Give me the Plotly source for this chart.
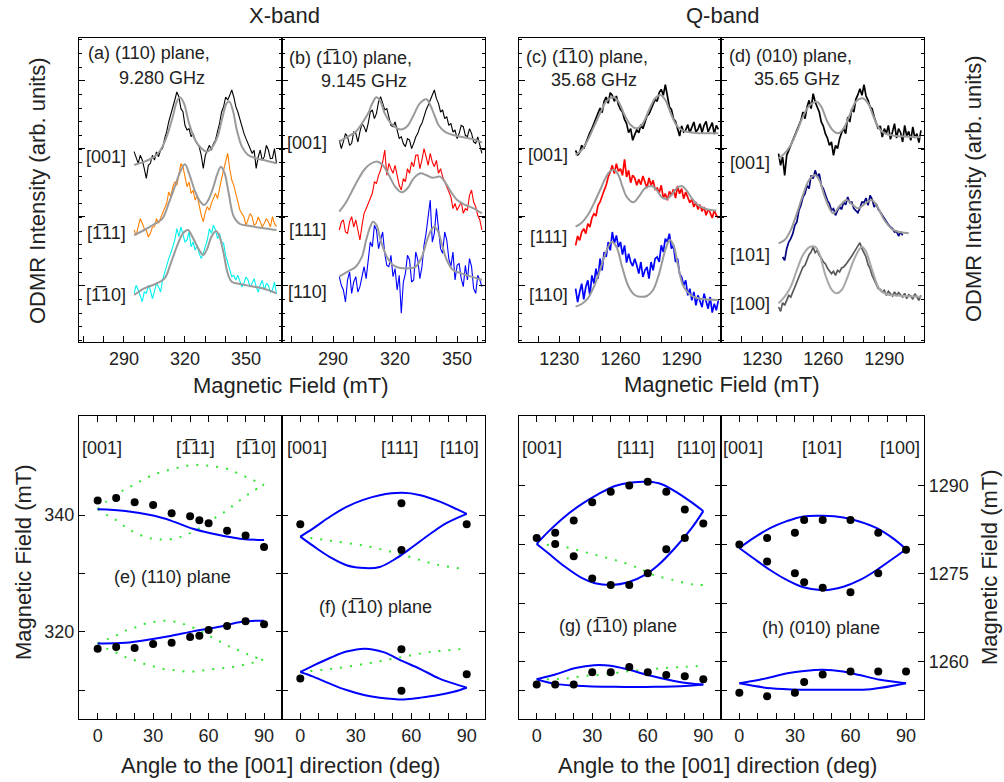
import plotly.graph_objects as go

# ---------------- DATA: top row spectra (intensity in arbitrary units) ----------------
FIELD_A = [295,296,297,298,299,300,301,302,303,304,305,306,307,308,309,310,311,312,313,314,
           315,316,317,318,319,320,321,322,323,324,325,326,327,328,329,330,331,332,333,334,
           335,336,337,338,339,340,341,342,343,344,345,346,347,348,349,350,351,352,353,354,
           355,356,357,358,359,360,361,362,363,364,365]
A_001 = [571,550,536,560,546,520,491,530,536,560,546,570,556,575,581,610,631,660,681,700,
         726,750,736,700,691,650,636,640,616,625,606,595,586,560,521,560,576,590,576,595,
         606,630,656,690,706,735,726,740,756,735,706,690,666,650,626,610,596,585,566,575,
         521,555,576,545,556,590,576,550,551,580,536]
A_M111 = [336,320,346,370,356,340,336,315,326,345,346,370,356,372,386,400,416,450,436,465,
          481,470,501,535,526,500,466,480,446,455,426,440,406,380,361,390,406,395,416,430,
          446,430,466,490,516,540,566,520,486,470,446,420,396,385,376,350,366,385,376,350,
          356,375,361,345,356,370,361,345,376,355,346]
A_M110 = [146,170,156,135,121,150,146,170,156,130,151,175,166,150,186,210,226,250,266,290,
          306,340,316,345,326,300,306,330,286,300,276,290,266,250,266,290,306,340,326,350,
          336,310,326,300,296,260,236,215,196,200,186,200,181,165,176,195,186,165,176,190,
          166,150,171,185,156,175,171,150,156,180,146]
FIT_A_001_X = [295,300,305,308,311,314,316,317.5,319.5,322,325,328,330.7,333,336,338.5,340.5,341.8,343.5,345.5,348,351,355,360,365]
FIT_A_001_Y = [531,541,556,576,616,676,721,734,716,656,606,581,571,581,616,676,716,721,696,636,586,561,551,544,536]
FIT_A_M111_X = [295,300,305,309,312,315,318,320,322,325,327.5,329.4,331.5,334,336,337.7,339.5,341.5,344,347,352,358,365]
FIT_A_M111_Y = [321,336,354,371,416,466,516,533,506,451,421,411,426,466,506,526,506,446,376,354,348,342,336]
FIT_A_M110_X = [295,300,305,310,313,316,319,321.5,324,327,329,331,333,335.3,337,339,341,343,347,352,358,365]
FIT_A_M110_Y = [141,161,173,191,236,286,326,336,311,276,261,281,316,333,316,266,206,181,174,168,161,146]

FIELD_B = [293,294,295,296,297,298,299,300,301,302,303,304,305,306,307,308,309,310,311,312,
           313,314,315,316,317,318,319,320,321,322,323,324,325,326,327,328,329,330,331,332,
           333,334,335,336,337,338,339,340,341,342,343,344,345,346,347,348,349,350,351,352,
           353,354,355,356,357,358,359,360,361,362]
B_001 = [606,580,601,625,616,590,596,630,626,600,631,655,646,630,656,690,696,670,686,720,
         736,715,696,700,676,650,646,660,636,610,616,595,586,610,606,580,596,615,626,645,
         656,680,696,710,726,740,756,730,716,690,696,670,676,650,656,630,636,610,626,650,
         646,620,616,640,626,600,596,615,586,566]
B_111 = [336,360,366,330,326,360,376,345,366,330,306,350,386,400,416,430,446,480,476,500,
         516,540,576,500,536,520,506,530,496,470,456,490,481,520,506,540,526,560,561,520,
         546,580,556,530,566,540,526,545,506,520,496,480,466,450,436,400,416,395,406,420,
         386,400,396,440,456,420,406,380,366,336]
B_110 = [196,170,156,120,186,210,146,180,196,150,166,200,226,190,256,300,286,350,336,280,
         306,330,266,230,226,260,196,220,156,200,86,180,206,260,246,180,186,270,246,190,
         226,290,326,380,426,300,326,400,346,280,266,330,306,250,226,270,186,230,236,190,
         166,230,186,250,226,160,146,200,186,166]
FIT_B_001_X = [293,297,301,304,307,309,311,313,315,318,321,323.5,326,329,332,335.2,337,339,341,344,348,353,358,362]
FIT_B_001_Y = [601,616,631,656,686,716,734,721,686,656,641,638,648,681,716,728,711,681,651,631,621,614,608,598]
FIT_B_111_X = [293,296,299,302,305,308,311.6,314,317,320,323.2,326,329,332.4,335,338,341.8,344,347,350,354,358,362]
FIT_B_111_Y = [391,416,451,486,516,534,541,531,501,466,449,461,491,506,501,493,496,481,451,426,411,401,386]
FIT_B_110_X = [293,297,301,304,306,308,309.3,311,313,316,319,322,326.8,330,333,335.5,337.5,338.9,340.5,342.5,345,348,352,357,362]
FIT_B_110_Y = [196,211,226,256,306,346,361,351,306,256,231,223,221,226,256,306,336,346,336,296,246,216,206,196,186]

FIELD_Q = [1238,1239,1240,1241,1242,1243,1244,1245,1246,1247,1248,1249,1250,1251,1252,1253,1254,1255,1256,1257,
           1258,1259,1260,1261,1262,1263,1264,1265,1266,1267,1268,1269,1270,1271,1272,1273,1274,1275,1276,1277,
           1278,1279,1280,1281,1282,1283,1284,1285,1286,1287,1288,1289,1290,1291,1292,1293,1294,1295,1296,1297,
           1298,1299,1300,1301,1302,1303,1304,1305,1306,1307,1308]
C_001 = [575,560,568,590,580,598,612,628,640,655,672,690,702,688,722,735,716,748,740,722,
         738,712,698,690,668,655,628,640,605,622,636,628,652,640,660,678,684,700,712,728,
         722,748,758,740,772,732,705,698,670,662,640,618,648,630,636,652,628,646,660,630,
         638,655,628,650,662,630,645,658,624,650,638]
C_111 = [290,318,305,330,340,325,355,345,372,385,378,410,420,440,455,470,495,510,530,505,
         535,512,520,500,548,495,515,478,500,492,470,488,472,498,480,462,492,470,485,458,
         462,448,470,432,445,425,452,440,458,432,468,445,460,430,450,432,418,428,405,420,
         398,412,392,405,380,398,388,372,395,380,372]
C_110 = [160,120,150,175,128,165,185,140,200,175,220,190,250,215,270,255,300,275,330,295,
         320,285,300,262,290,238,265,240,228,250,230,205,240,195,215,225,190,240,215,250,
         255,240,290,270,310,300,325,280,290,240,250,205,195,170,185,140,160,125,150,110,
         140,125,105,145,120,100,135,88,115,95,125]
FIT_C_001_X = [1238,1241,1244,1247,1250,1253,1256.5,1259,1262,1265,1267.9,1271,1274,1277,1279.7,1282,1285,1288,1292,1296,1300,1304,1308]
FIT_C_001_Y = [561,576,606,646,686,721,734,721,681,651,641,656,696,731,741,726,681,646,631,628,626,626,626]
FIT_C_111_X = [1238,1241,1244,1247,1250,1253,1255,1257,1259,1261,1263,1266.3,1269,1272,1275.3,1278,1280,1282.6,1285,1287.5,1290,1292,1295,1298,1302,1307]
FIT_C_111_Y = [346,358,381,416,456,496,513,516,501,466,436,419,436,461,468,454,436,429,441,461,468,458,431,411,399,394]
FIT_C_110_X = [1238,1241,1244,1247,1250,1253,1255.7,1258,1261,1264,1267,1269.5,1273,1276,1279,1282,1284.2,1286,1288,1291,1295.7,1300,1308]
FIT_C_110_Y = [106,114,131,166,216,271,301,286,221,166,141,136,138,156,206,276,306,291,236,166,136,129,126]

D_001 = [565,530,555,500,560,575,590,605,620,640,650,665,690,670,705,725,700,745,720,705,
         690,660,648,625,612,590,600,560,590,580,610,628,640,625,675,660,700,690,728,742,
         760,740,772,738,725,705,700,675,660,640,648,615,640,625,650,608,630,655,612,640,
         628,600,650,618,632,605,645,612,625,598,635]
FIELD_D101 = [1240,1241,1242,1243,1244,1245,1246,1247,1248,1249,1250,1251,1252,1253,1254,1255,1256,1257,1258,1259,
              1260,1261,1262,1263,1264,1265,1266,1267,1268,1269,1270,1271,1272,1273,1274,1275,1276,1277,1278,1279,
              1280,1281,1282,1283,1284,1285,1286,1287,1288,1289,1290,1291,1292,1293,1294,1295,1296,1297,1298,1299]
D_101 = [255,245,280,300,310,325,350,360,395,410,435,445,470,460,500,490,515,495,505,470,
         460,440,425,415,395,400,380,395,405,398,420,412,435,418,420,400,395,388,402,420,
         418,432,410,440,428,405,415,398,390,380,370,360,352,345,340,330,332,318,330,320]
D_100 = [105,92,118,110,125,140,135,150,165,175,195,205,225,230,248,262,270,285,268,275,
         260,252,240,235,222,215,205,212,200,215,210,222,225,232,240,248,258,268,278,292,
         298,280,268,255,232,220,200,188,172,160,158,150,155,140,152,145,138,150,140,148,
         142,135,146,130,142,138,128,145,135,125,140]
FIT_D_001_X = [1238,1241,1244,1247,1250,1253,1256.7,1259,1262,1265,1267.4,1270,1273,1276,1279.3,1282,1285,1288,1291,1296,1302,1308]
FIT_D_001_Y = [551,566,591,631,676,708,721,706,661,633,626,641,681,721,731,716,671,636,624,618,616,614]
FIT_D_101_X = [1238,1241,1244,1247,1250,1253,1255.9,1258,1261,1264.9,1268,1271.5,1274.5,1277.2,1280,1283.8,1287,1290,1294,1298,1302]
FIT_D_101_Y = [296,306,336,386,441,486,501,486,431,386,408,426,411,401,413,426,401,366,338,329,326]
FIT_D_100_X = [1238,1241,1244,1247,1250,1253,1255.9,1258,1261,1264,1266.6,1269,1272,1275,1278.9,1281,1284,1287.9,1292,1298,1308]
FIT_D_100_Y = [116,136,166,216,261,284,286,266,201,158,146,156,196,246,286,271,216,156,142,139,136]

# ---------------- DATA: bottom row angular dependence (mT vs deg) ----------------
E_ANG = [0,10,20,30,40,50,55,60,70,80,90]
E_UP = [342.5,342.9,342.2,341.7,340.3,339.8,339.1,338.6,337.3,336.5,334.5]
E_LOW = [317.1,317.4,317.2,317.9,318.1,319.1,319.3,320.3,321.0,321.8,321.3]
E_FIT_UP_ANG = [0,15,30,40,52,65,78,90]
E_FIT_UP = [341.0,340.7,339.9,339.0,337.6,336.6,335.9,335.7]
E_FIT_LOW_ANG = [0,15,29,40,52,65,78,90]
E_FIT_LOW = [318.0,318.1,318.7,319.3,320.1,320.8,321.7,321.9]
E_G_ANG = [0,5,11,16,21,26,31,36,42,47,52.5,58,63,69,74,79,84,90]
E_G1 = [341.0,342.4,343.7,344.6,345.4,346.3,347.0,347.5,348.0,348.4,348.6,348.5,348.3,348.0,347.4,346.7,346.0,345.1]
E_G2 = [341.0,340.0,338.9,337.7,336.9,336.2,335.9,335.8,336.0,336.5,337.3,338.3,339.4,340.6,341.8,343.0,344.1,345.1]
E_G3 = [318.0,318.7,319.5,320.3,320.8,321.4,321.7,321.9,321.7,321.25,320.6,319.7,318.85,317.8,317.1,316.45,315.7,315.3]
E_G4 = [318.0,317.1,316.3,315.5,315.0,314.4,314.0,313.6,313.4,313.2,313.2,313.4,313.6,313.8,314.0,314.3,314.7,315.3]

F_ANG = [0,54.7,54.7,90]
F_UPGRP = [338.4,342.0,334.0,338.4]
F_LOWGRP = [312.0,317.0,309.9,312.7]
F_L1_UP_ANG = [0,7,16,25,34,43,55,65,75.5,84.6,90]
F_L1_UP = [336.3,337.7,339.7,341.4,342.6,343.4,343.8,343.4,342.3,341.0,340.2]
F_L1_LOW_ANG = [0,7,16,25,35,43,52,61,70,79,90]
F_L1_LOW = [336.3,334.7,332.8,331.4,330.9,331.1,332.6,334.6,336.7,338.6,340.2]
F_L2_UP_ANG = [0,7,16,25,35,45,55,65,75,83,90]
F_L2_UP = [313.1,314.2,315.5,316.6,317.1,316.5,315.0,313.6,312.0,311.1,310.4]
F_L2_LOW_ANG = [0,7,16,25,35,43,56,65,74,83,90]
F_L2_LOW = [313.1,312.3,311.1,310.0,309.1,308.7,308.4,308.7,309.1,309.7,310.4]
F_G1_ANG = [0,16,37,56,74,90]
F_G1 = [336.3,335.6,334.6,333.1,331.5,330.7]
F_G2_ANG = [0,16,37,54,70,90]
F_G2 = [313.1,313.6,314.6,315.6,316.5,317.1]

G_ANG = [0,10,20,30,40,50,60,70,80,90]
G_UP = [1281.1,1282.0,1284.1,1287.2,1289.0,1290.1,1290.7,1289.0,1286.0,1283.6]
G_MID_ANG = [10,20,30,40,50,60,70,80]
G_MID = [1280.1,1278.0,1274.2,1273.1,1273.1,1275.1,1279.2,1281.1]
G_LOW = [1256.1,1256.1,1256.1,1258.2,1258.2,1259.1,1258.2,1257.7,1257.5,1257.0]
G_L1_UP_ANG = [0,6.3,15.3,24.3,33.3,42.3,51.3,60.3,67.5,76.5,83.7,90]
G_L1_UP = [1280.1,1282.2,1284.8,1286.9,1288.6,1290.0,1290.6,1290.7,1290.3,1288.75,1287.2,1285.7]
G_L1_LOW_ANG = [0,6.3,15.3,24.3,31.5,40.5,49.5,58.5,65.7,74.7,83.7,90]
G_L1_LOW = [1280.1,1278.5,1276.2,1274.3,1273.4,1273.1,1273.55,1274.8,1276.5,1279.4,1282.8,1285.7]
G_G1_ANG = [0,15,26,37,48,57,64,73,84,90]
G_G1 = [1280.1,1279.6,1278.7,1277.8,1276.8,1275.7,1274.7,1274.0,1273.2,1273.1]
G_L2_UP_ANG = [0,10,21,31,40,50,60,71,82,90]
G_L2_UP = [1257.0,1257.8,1258.9,1259.4,1259.3,1258.6,1257.7,1256.9,1256.3,1256.1]
G_L2_LOW_ANG = [0,10,21,42,64,82,90]
G_L2_LOW = [1257.0,1256.2,1255.9,1255.7,1255.7,1255.9,1256.1]
G_G2_ANG = [0,15,26,37,48,59,69,80,90]
G_G2 = [1257.0,1257.1,1257.55,1257.8,1258.3,1258.6,1258.9,1259.1,1259.3]

H_ANG = [0,15,30,35,45,60,75,90]
H_UP = [1280.0,1281.1,1282.0,1284.2,1284.2,1284.2,1282.0,1279.1]
H_MID_ANG = [15,30,35,45,60,75]
H_MID = [1277.1,1275.1,1273.55,1272.6,1271.85,1275.1]
H_LOW = [1254.7,1254.1,1254.7,1256.5,1257.8,1258.3,1258.3,1258.3]
H_L1_ANG = [0,7.6,16.6,25.6,34.6,45.4,56.2,65.2,74.2,83.2,90]
H_L1_UP = [1279.4,1281.1,1282.8,1284.0,1284.8,1284.9,1284.6,1283.9,1282.8,1281.0,1279.2]
H_L1_LOW = [1279.4,1277.65,1275.65,1273.95,1272.7,1272.2,1272.8,1273.95,1275.65,1277.65,1279.2]
H_L2_UP_ANG = [0,11,26,35,45,56,65,76,90]
H_L2_UP = [1256.3,1256.9,1258.0,1258.4,1258.6,1258.3,1257.7,1256.9,1256.3]
H_L2_LOW_ANG = [0,17,35,53,71,90]
H_L2_LOW = [1256.3,1255.45,1255.2,1255.2,1255.3,1256.3]

X_TICKS = [270,280,290,300,310,320,330,340,350,360]
X_LABELS = ['','','290','','','320','','','350','']
Q_TICKS = [1220,1230,1240,1250,1260,1270,1280,1290,1300]
Q_LABELS = ['','1230','','','1260','','','1290','']
ANG_TICKS = [0,10,20,30,40,50,60,70,80,90]
ANG_LABELS = ['0','','','30','','','60','','','90']
EF_TICKS = [310,320,330,340]
EF_LABELS = ['','320','','340']
GH_TICKS = [1255,1260,1265,1270,1275,1280,1285,1290]
GH_LABELS = ['','1260','','','1275','','','1290']

# ---------------- FIGURE ----------------
W, H = 1004, 782
FONT = "Liberation Sans, Arial, sans-serif"
TXT = "#222222"
OB = "\u0305"  # combining overline


def px(x):
    return x / W


def py(y):
    return 1 - y / H


fig = go.Figure()


def ax(i):
    return ('x' if i == 1 else f'x{i}'), ('y' if i == 1 else f'y{i}')


def line(i, xs, ys, color, width=1, dash=None, shape='linear'):
    xa, ya = ax(i)
    fig.add_trace(go.Scatter(x=xs, y=ys, mode='lines', xaxis=xa, yaxis=ya,
                             line=dict(color=color, width=width, dash=dash, shape=shape,
                                       smoothing=1.0 if shape == 'spline' else None),
                             showlegend=False, hoverinfo='skip'))


def dots(i, xs, ys):
    xa, ya = ax(i)
    fig.add_trace(go.Scatter(x=xs, y=ys, mode='markers', xaxis=xa, yaxis=ya,
                             marker=dict(color='black', size=8),
                             showlegend=False, hoverinfo='skip'))


FIT = '#9a9a9a'
GREEN = '#33e633'
BLUE = '#0000ff'
GDASH = '2px,8px'
XW = 1.1   # X-band data line width
QW = 1.7   # Q-band data (dense noise) line width

# (a)
line(1, FIELD_A, A_001, 'black', XW)
line(1, FIELD_A, A_M111, '#ff8000', XW)
line(1, FIELD_A, A_M110, '#00f0f0', XW)
line(1, FIT_A_001_X, FIT_A_001_Y, FIT, 2, shape='spline')
line(1, FIT_A_M111_X, FIT_A_M111_Y, FIT, 2, shape='spline')
line(1, FIT_A_M110_X, FIT_A_M110_Y, FIT, 2, shape='spline')
# (b)
line(2, FIELD_B, B_001, 'black', XW)
line(2, FIELD_B, B_111, '#ff0000', XW)
line(2, FIELD_B, B_110, '#0000ff', XW)
line(2, FIT_B_001_X, FIT_B_001_Y, FIT, 2, shape='spline')
line(2, FIT_B_111_X, FIT_B_111_Y, FIT, 2, shape='spline')
line(2, FIT_B_110_X, FIT_B_110_Y, FIT, 2, shape='spline')
# (c)
line(3, FIELD_Q, C_001, 'black', QW)
line(3, FIELD_Q, C_111, '#ff0000', QW)
line(3, FIELD_Q, C_110, '#0000ff', QW)
line(3, FIT_C_001_X, FIT_C_001_Y, FIT, 2, shape='spline')
line(3, FIT_C_111_X, FIT_C_111_Y, FIT, 2, shape='spline')
line(3, FIT_C_110_X, FIT_C_110_Y, FIT, 2, shape='spline')
# (d)
line(4, FIELD_Q, D_001, 'black', QW)
line(4, FIELD_D101, D_101, '#000080', QW)
line(4, FIELD_Q, D_100, '#5a5a5a', QW)
line(4, FIT_D_001_X, FIT_D_001_Y, FIT, 2, shape='spline')
line(4, FIT_D_101_X, FIT_D_101_Y, FIT, 2, shape='spline')
line(4, FIT_D_100_X, FIT_D_100_Y, '#a8a8a8', 2, shape='spline')

# (e)
for g in (E_G1, E_G2, E_G3, E_G4):
    line(5, E_G_ANG, g, GREEN, 2, dash=GDASH, shape='spline')
line(5, E_FIT_UP_ANG, E_FIT_UP, BLUE, 2, shape='spline')
line(5, E_FIT_LOW_ANG, E_FIT_LOW, BLUE, 2, shape='spline')
dots(5, E_ANG, E_UP)
dots(5, E_ANG, E_LOW)
# (f)
line(6, F_G1_ANG, F_G1, GREEN, 2, dash=GDASH, shape='spline')
line(6, F_G2_ANG, F_G2, GREEN, 2, dash=GDASH, shape='spline')
line(6, F_L1_UP_ANG, F_L1_UP, BLUE, 2, shape='spline')
line(6, F_L1_LOW_ANG, F_L1_LOW, BLUE, 2, shape='spline')
line(6, F_L2_UP_ANG, F_L2_UP, BLUE, 2, shape='spline')
line(6, F_L2_LOW_ANG, F_L2_LOW, BLUE, 2, shape='spline')
dots(6, F_ANG, F_UPGRP)
dots(6, F_ANG, F_LOWGRP)
# (g)
line(7, G_G1_ANG, G_G1, GREEN, 2, dash=GDASH, shape='spline')
line(7, G_G2_ANG, G_G2, GREEN, 2, dash=GDASH, shape='spline')
line(7, G_L1_UP_ANG, G_L1_UP, BLUE, 2, shape='spline')
line(7, G_L1_LOW_ANG, G_L1_LOW, BLUE, 2, shape='spline')
line(7, G_L2_UP_ANG, G_L2_UP, BLUE, 2, shape='spline')
line(7, G_L2_LOW_ANG, G_L2_LOW, BLUE, 2, shape='spline')
dots(7, G_ANG, G_UP)
dots(7, G_MID_ANG, G_MID)
dots(7, G_ANG, G_LOW)
# (h)
line(8, H_L1_ANG, H_L1_UP, BLUE, 2, shape='spline')
line(8, H_L1_ANG, H_L1_LOW, BLUE, 2, shape='spline')
line(8, H_L2_UP_ANG, H_L2_UP, BLUE, 2, shape='spline')
line(8, H_L2_LOW_ANG, H_L2_LOW, BLUE, 2, shape='spline')
dots(8, H_ANG, H_UP)
dots(8, H_MID_ANG, H_MID)
dots(8, H_ANG, H_LOW)

# ---------------- AXES ----------------
XDOM = [(79, 282), (282, 485), (519, 721), (721, 924)]
TOP_Y = (38, 342)
BOT_Y = (416, 719)
TOP_XR = [(267.9, 367.7), (265.3, 363.5), (1210.25, 1309.3), (1209.7, 1309.5)]
BOT_XR = [(-10.1, 99.7), (-9.9, 99.9), (-9.56, 99.56), (-9.9, 99.7)]

base = dict(showline=True, linecolor='black', linewidth=1.2, ticks='inside', ticklen=6,
            tickwidth=1.2, tickcolor='black', showgrid=False, zeroline=False,
            tickfont=dict(family=FONT, size=18, color=TXT))
lay = {}
for k in range(4):
    i = k + 1
    xa = 'xaxis' if i == 1 else f'xaxis{i}'
    ya = 'yaxis' if i == 1 else f'yaxis{i}'
    xt, xl = (X_TICKS, X_LABELS) if k < 2 else (Q_TICKS, Q_LABELS)
    lay[xa] = dict(base, domain=[px(XDOM[k][0]), px(XDOM[k][1])], anchor=ax(i)[1],
                   range=list(TOP_XR[k]), tickvals=xt, ticktext=xl, mirror=True)
    lay[ya] = dict(base, domain=[py(TOP_Y[1]), py(TOP_Y[0])], anchor=ax(i)[0],
                   range=[0, 912], tickvals=[169, 376, 581, 786], showticklabels=False,
                   mirror='allticks',
                   minor=dict(ticks='inside', ticklen=3, tickcolor='black', dtick=41, tick0=5))
    # bottom
    j = k + 5
    xa = f'xaxis{j}'
    ya = f'yaxis{j}'
    lay[xa] = dict(base, domain=[px(XDOM[k][0]), px(XDOM[k][1])], anchor=f'y{j}',
                   range=list(BOT_XR[k]), tickvals=ANG_TICKS, ticktext=ANG_LABELS,
                   mirror='allticks')
    if k < 2:
        yr, yt, yl = [305.04, 356.97], EF_TICKS, EF_LABELS
    else:
        yr, yt, yl = [1250.2, 1301.95], GH_TICKS, GH_LABELS
    lay[ya] = dict(base, domain=[py(BOT_Y[1]), py(BOT_Y[0])], anchor=f'x{j}',
                   range=yr, tickvals=yt, ticktext=yl, mirror='allticks',
                   showticklabels=(k == 0 or k == 3), side='right' if k == 3 else 'left')

fig.update_layout(**lay)

# ---------------- TEXT ----------------
ann = []


def T(text, x, y, size=18, xanchor='center', angle=0):
    ann.append(dict(text=text, x=px(x), y=py(y), xref='paper', yref='paper',
                    xanchor=xanchor, yanchor='middle', showarrow=False, textangle=angle,
                    font=dict(family=FONT, size=size, color=TXT)))


T('X-band', 284, 15, 22)
T('Q-band', 722, 15, 22)
T('(a) (110) plane,', 86, 53, xanchor='left')
T('9.280 GHz', 162, 78)
T('(b) (1' + OB + '10) plane,', 287, 58, xanchor='left')
T('9.145 GHz', 364, 81)
T('(c) (1' + OB + '10) plane,', 524, 57, xanchor='left')
T('35.68 GHz', 594, 80)
T('(d) (010) plane,', 727, 56, xanchor='left')
T('35.65 GHz', 797, 79)

T('[001]', 106, 157)
T('[1' + OB + '11]', 106, 233)
T('[1' + OB + '10]', 106, 295)
T('[001]', 307, 143)
T('[111]', 307, 230)
T('[110]', 307, 292)
T('[001]', 548, 155)
T('[111]', 548, 237)
T('[110]', 548, 295)
T('[001]', 750, 163)
T('[101]', 750, 255)
T('[100]', 750, 304)

for xx, tt in [(102, '[001]'), (195, '[1' + OB + '11]'), (256, '[1' + OB + '10]'),
               (307, '[001]'), (399, '[111]'), (459, '[110]'),
               (542, '[001]'), (635, '[111]'), (696, '[110]'),
               (743, '[001]'), (822, '[101]'), (900, '[100]')]:
    T(tt, xx, 448)

T('(e) (110) plane', 172, 577)
T('(f) (1' + OB + '10) plane', 375, 607)
T('(g) (1' + OB + '10) plane', 618, 626)
T('(h) (010) plane', 821, 628)

T('Magnetic Field (mT)', 291, 385, 22)
T('Magnetic Field (mT)', 722, 384, 22)
T('Angle to the [001] direction (deg)', 280, 765, 22)
T('Angle to the [001] direction (deg)', 717, 765, 22)
T('ODMR Intensity (arb. units)', 37, 191, 22, angle=-90)
T('ODMR Intensity (arb. units)', 973, 189, 22, angle=-90)
T('Magnetic Field (mT)', 23, 562, 22, angle=-90)
T('Magnetic Field (mT)', 989, 567, 22, angle=-90)

fig.update_layout(width=W, height=H, margin=dict(l=0, r=0, t=0, b=0),
                  paper_bgcolor='white', plot_bgcolor='white', showlegend=False,
                  annotations=ann)

fig.write_html("out.html")
